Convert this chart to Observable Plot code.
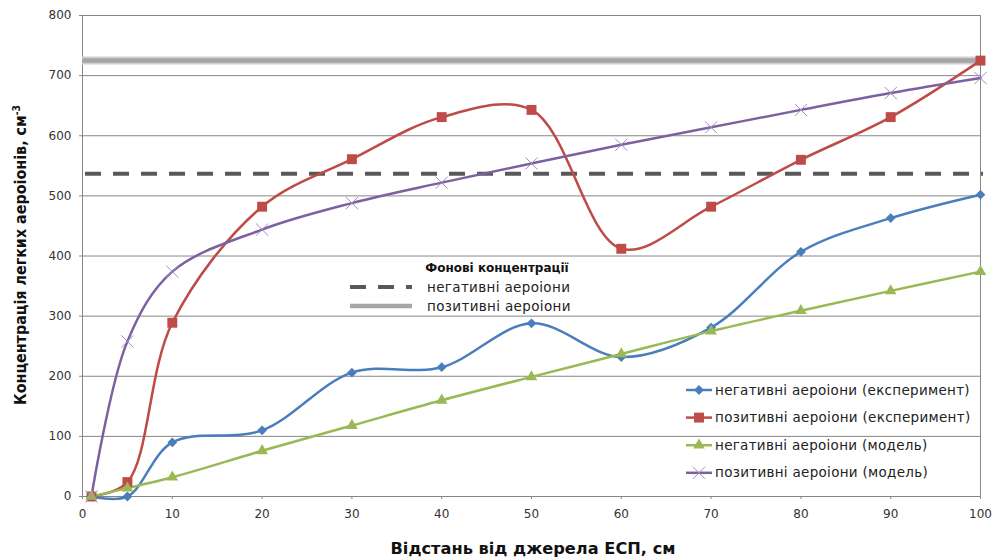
<!DOCTYPE html>
<html><head><meta charset="utf-8">
<script src="https://cdn.jsdelivr.net/npm/d3@7"></script>
<script src="https://cdn.jsdelivr.net/npm/@observablehq/plot@0.6"></script>
<style>body{margin:0;background:#fff} #chart{width:994px;height:560px}</style>
</head><body><div id="chart"></div>
<script>
// ---- data ----
const distances = [1, 5, 10, 20, 30, 40, 50, 60, 70, 80, 90, 100];
const negExp   = [0, 0, 90, 110, 206, 215, 288, 232, 281, 407, 463, 502];
const posExp   = [0, 24, 289, 482, 561, 631, 643, 412, 482, 560, 631, 725];
const negModel = [0, 14, 32, 76, 118, 160, 199, 237, 275, 309, 342, 374];
const posModel = [0, 258, 374, 444, 488, 522, 554, 585, 614, 643, 671, 696];
const backgroundNeg = 537;
const backgroundPos = 725;
const xTicks = [0, 10, 20, 30, 40, 50, 60, 70, 80, 90, 100];
const yTicks = [0, 100, 200, 300, 400, 500, 600, 700, 800];
const seriesNames = [
  "негативні аероіони (експеримент)",
  "позитивні аероіони (експеримент)",
  "негативні аероіони (модель)",
  "позитивні аероіони (модель)"
];
const bgTitle = "Фонові концентрації";
const bgNames = ["негативні аероіони", "позитивні аероіони"];
const xTitle = "Відстань від джерела ЕСП, см";
const yTitle = "Концентрація легких аероіонів, см";

// ---- styles ----
const styles = [
  {color: "#4a7ebb", symbol: "diamond2", r: 4.4, markFill: "#4a7ebb", markStroke: "none", sw: 0},
  {color: "#be4b48", symbol: "square", r: 5.6, markFill: "#be4b48", markStroke: "none", sw: 0},
  {color: "#98b954", symbol: "triangle", r: 4.3, markFill: "#98b954", markStroke: "none", sw: 0},
  {color: "#7d60a0", symbol: "times", r: 5.6, markFill: "none", markStroke: "#9d8cc4", sw: 1}
];
const allSeries = [negExp, posExp, negModel, posModel];
const table = allSeries.map((vals, i) => distances.map((d, j) => ({x: d, y: vals[j], s: i})));

const marks = [
  Plot.gridY(yTicks, {stroke: "#868686", strokeOpacity: 1, strokeWidth: 1}),
  Plot.frame({stroke: "#868686"}),
  Plot.axisY(yTicks, {tickSize: 3, tickPadding: 8, label: null, stroke: "#868686", fill: "#333", fontSize: 12}),
  Plot.axisX(xTicks, {tickSize: 3, tickPadding: 10, label: null, stroke: "#868686", fill: "#333", fontSize: 12}),
  Plot.ruleY([backgroundPos], {stroke: "#d0d0d0", strokeWidth: 8}),
  Plot.ruleY([backgroundPos], {stroke: "#a6a6a6", strokeWidth: 4.5}),
  Plot.ruleY([backgroundNeg], {stroke: "#595959", strokeWidth: 4, strokeDasharray: "16,12", dx: 3})
];
table.forEach((rows, i) => {
  const st = styles[i];
  marks.push(Plot.line(rows, {x: "x", y: "y", stroke: st.color, strokeWidth: 2.5, curve: "catmull-rom"}));
});
table.forEach((rows, i) => {
  const st = styles[i];
  marks.push(Plot.dot(rows, {x: "x", y: "y", symbol: st.symbol, r: st.r, fill: st.markFill, stroke: st.markStroke, strokeWidth: st.sw}));
});

const chart = Plot.plot({
  width: 994, height: 560,
  marginLeft: 82, marginRight: 14, marginTop: 15, marginBottom: 64,
  x: {domain: [0, 100]},
  y: {domain: [0, 800]},
  style: {fontFamily: "DejaVu Sans", fontSize: "12px", background: "white", overflow: "visible"},
  marks
});
document.getElementById("chart").appendChild(chart);

// ---- titles & legends ----
const svg = d3.select(chart);
svg.append("text")
  .attr("x", 533).attr("y", 554)
  .attr("text-anchor", "middle")
  .attr("font-family", "DejaVu Sans").attr("font-weight", "bold").attr("font-size", 15)
  .attr("fill", "#111")
  .attr("textLength", 285).attr("lengthAdjust", "spacingAndGlyphs")
  .text(xTitle);

const yt = svg.append("text")
  .attr("transform", "translate(26,255) rotate(-90)")
  .attr("text-anchor", "middle")
  .attr("font-family", "DejaVu Sans").attr("font-weight", "bold").attr("font-size", 15.5)
  .attr("fill", "#111")
  .attr("textLength", 300).attr("lengthAdjust", "spacingAndGlyphs");
yt.append("tspan").text(yTitle);
yt.append("tspan").attr("font-size", 10).attr("dy", -6).text("-3");

// inner legend (background concentrations)
svg.append("text").attr("x", 497).attr("y", 272).attr("text-anchor", "middle")
  .attr("font-family", "DejaVu Sans").attr("font-weight", "bold").attr("font-size", 12)
  .attr("fill", "#111").text(bgTitle);
svg.append("line").attr("x1", 350).attr("x2", 412).attr("y1", 287).attr("y2", 287)
  .attr("stroke", "#595959").attr("stroke-width", 4).attr("stroke-dasharray", "16,12");
svg.append("line").attr("x1", 350).attr("x2", 412).attr("y1", 306).attr("y2", 306)
  .attr("stroke", "#a6a6a6").attr("stroke-width", 4.5);
bgNames.forEach((n, i) => {
  svg.append("text").attr("x", 427).attr("y", 291.5 + i * 19).attr("text-anchor", "start")
    .attr("font-family", "DejaVu Sans").attr("font-size", 13.5).attr("letter-spacing", 0.35)
    .attr("fill", "#222").text(n);
});

// main legend
const symMap = {diamond2: d3.symbolDiamond2, square: d3.symbolSquare, triangle: d3.symbolTriangle, times: d3.symbolTimes};
seriesNames.forEach((n, i) => {
  const st = styles[i];
  const yy = 390 + i * 27.6;
  const g = svg.append("g");
  g.append("line").attr("x1", 686).attr("x2", 712).attr("y1", yy).attr("y2", yy)
    .attr("stroke", st.color).attr("stroke-width", 2.5);
  g.append("path").attr("transform", `translate(699,${yy})`)
    .attr("d", d3.symbol(symMap[st.symbol], Math.PI * st.r * st.r)())
    .attr("fill", st.markFill).attr("stroke", st.markStroke).attr("stroke-width", st.sw);
  g.append("text").attr("x", 715).attr("y", yy + 4.5).attr("text-anchor", "start")
    .attr("font-family", "DejaVu Sans").attr("font-size", 13.5).attr("letter-spacing", 0.3)
    .attr("fill", "#222").text(n);
});
</script>
</body></html>
